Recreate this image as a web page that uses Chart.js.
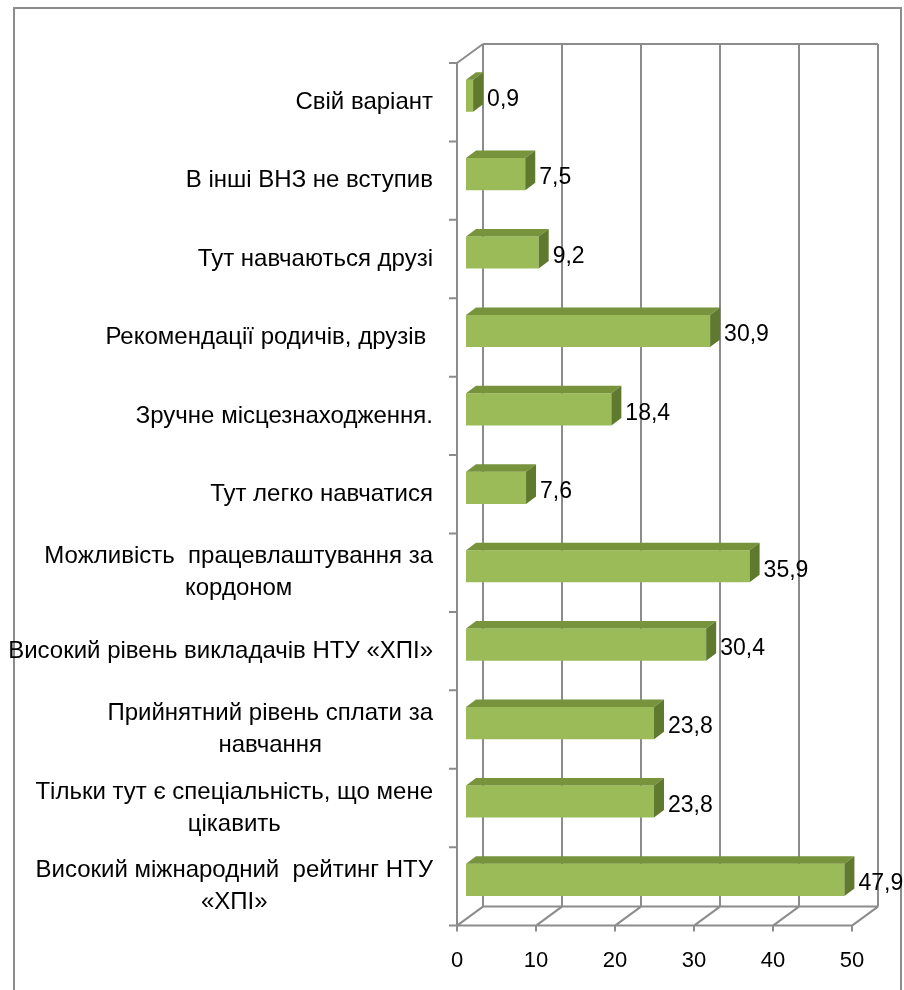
<!DOCTYPE html>
<html>
<head>
<meta charset="utf-8">
<script src="https://cdn.jsdelivr.net/npm/chart.js@4.4.0/dist/chart.umd.min.js"></script>
<style>
  html, body { margin: 0; padding: 0; background: #fff; }
</style>
</head>
<body>
<canvas id="chart" width="904" height="990"></canvas>
<script>
// categories top to bottom, as in the picture
const categories = [
  'Свій варіант',
  'В інші ВНЗ не вступив',
  'Тут навчаються друзі',
  'Рекомендації родичів, друзів ',
  'Зручне місцезнаходження.',
  'Тут легко навчатися',
  ['Можливість  працевлаштування за', 'кордоном'],
  'Високий рівень викладачів НТУ «ХПІ»',
  ['Прийнятний рівень сплати за', 'навчання'],
  ['Тільки тут є спеціальність, що мене', 'цікавить'],
  ['Високий міжнародний  рейтинг НТУ', '«ХПІ»']
];
const values = [0.9, 7.5, 9.2, 30.9, 18.4, 7.6, 35.9, 30.4, 23.8, 23.8, 47.9];
const xMin = 0, xMax = 50, xStep = 10;

const FONT = '"Liberation Sans", Arial, sans-serif';
const GRID = '#8c8c8c';
// depth of the 3D box (front plane -> back wall)
const DEPTH = { x: 26, y: -19 };

const fmt = v => v.toFixed(1).replace('.', ',');

const box3d = {
  id: 'box3d',
  beforeDatasetsDraw(chart) {
    const { ctx, chartArea: a, scales: { x, y } } = chart;
    ctx.save();
    ctx.lineWidth = 2;
    ctx.strokeStyle = GRID;

    // outer frame
    ctx.beginPath();
    ctx.moveTo(14, 990); ctx.lineTo(14, 8); ctx.lineTo(901, 8); ctx.lineTo(901, 990);
    ctx.stroke();

    const bx = v => x.getPixelForValue(v) + DEPTH.x;
    const topB = a.top + DEPTH.y, botB = a.bottom + DEPTH.y;

    // back wall: gridlines and border
    ctx.beginPath();
    for (let v = xMin; v <= xMax; v += xStep) {
      ctx.moveTo(bx(v), topB); ctx.lineTo(bx(v), botB);
    }
    ctx.moveTo(bx(xMin), topB); ctx.lineTo(bx(xMax), topB);
    // floor
    ctx.moveTo(x.getPixelForValue(xMin), a.bottom); ctx.lineTo(x.getPixelForValue(xMax), a.bottom);
    ctx.moveTo(bx(xMin), botB); ctx.lineTo(bx(xMax), botB);
    for (let v = xMin; v <= xMax; v += xStep) {
      const px = x.getPixelForValue(v);
      ctx.moveTo(px, a.bottom); ctx.lineTo(px + DEPTH.x, botB);
      ctx.moveTo(px, a.bottom); ctx.lineTo(px, a.bottom + 6);
    }
    // left wall edge + axis
    ctx.moveTo(a.left, a.top); ctx.lineTo(a.left + DEPTH.x, topB);
    ctx.moveTo(a.left, a.top); ctx.lineTo(a.left, a.bottom);
    const band = y.getPixelForValue(1) - y.getPixelForValue(0);
    for (let i = 0; i <= categories.length; i++) {
      const py = y.getPixelForValue(i) - band / 2;
      ctx.moveTo(a.left - 8, py); ctx.lineTo(a.left, py);
    }
    ctx.stroke();

    // category labels: block right aligned, lines centred
    ctx.fillStyle = '#000';
    ctx.font = '24px ' + FONT;
    ctx.textBaseline = 'middle';
    ctx.textAlign = 'center';
    const lineH = 32;
    categories.forEach((lab, i) => {
      const lines = Array.isArray(lab) ? lab : [lab];
      const w = Math.max(...lines.map(l => ctx.measureText(l).width));
      const cx = 433 - w / 2;
      const cy = y.getPixelForValue(i);
      lines.forEach((l, k) => {
        ctx.fillText(l, cx, cy + (k - (lines.length - 1) / 2) * lineH);
      });
    });
    ctx.restore();

    // bars sit a bit into the box
    ctx.save();
    ctx.translate(9, -6.5);
  },
  afterDatasetsDraw(chart) {
    const { ctx } = chart;
    const dx = 10, dy = -7.5;
    const meta = chart.getDatasetMeta(0);
    meta.data.forEach((bar, i) => {
      const top = bar.y - bar.height / 2, bot = bar.y + bar.height / 2;
      ctx.fillStyle = '#77933c';
      ctx.beginPath();
      ctx.moveTo(bar.base, top); ctx.lineTo(bar.x, top);
      ctx.lineTo(bar.x + dx, top + dy); ctx.lineTo(bar.base + dx, top + dy);
      ctx.closePath(); ctx.fill();
      ctx.fillStyle = '#5f7a2f';
      ctx.beginPath();
      ctx.moveTo(bar.x, top); ctx.lineTo(bar.x + dx, top + dy);
      ctx.lineTo(bar.x + dx, bot + dy); ctx.lineTo(bar.x, bot);
      ctx.closePath(); ctx.fill();

      ctx.fillStyle = '#000';
      ctx.font = '23px ' + FONT;
      ctx.textAlign = 'left';
      ctx.textBaseline = 'middle';
      ctx.fillText(fmt(values[i]), bar.x + dx + 4, bar.y + 4);
    });
    ctx.restore();
  }
};

new Chart(document.getElementById('chart'), {
  type: 'bar',
  data: {
    labels: categories,
    datasets: [{
      data: values,
      backgroundColor: '#9bbb59',
      borderWidth: 0,
      categoryPercentage: 1,
      barPercentage: 0.41
    }]
  },
  options: {
    indexAxis: 'y',
    responsive: false,
    animation: false,
    devicePixelRatio: 1,
    layout: { padding: { left: 457, right: 52, top: 63, bottom: -6 } },
    plugins: { legend: { display: false }, tooltip: { enabled: false } },
    scales: {
      x: {
        min: xMin, max: xMax,
        ticks: { stepSize: xStep, padding: 22, color: '#000', font: { family: FONT, size: 22 } },
        grid: { display: false, drawTicks: false },
        border: { display: false }
      },
      y: { display: false }
    }
  },
  plugins: [box3d]
});
</script>
</body>
</html>
